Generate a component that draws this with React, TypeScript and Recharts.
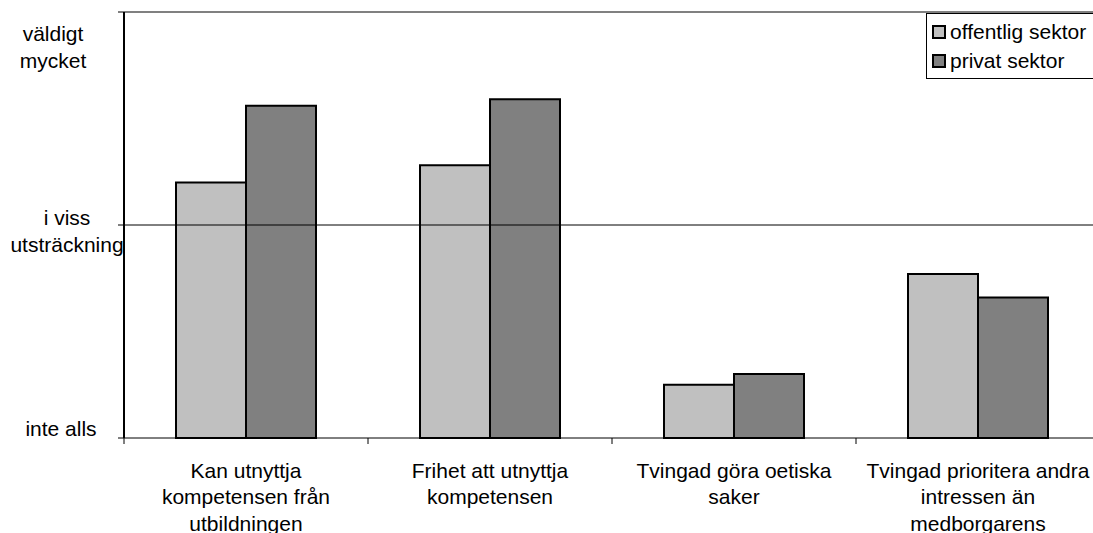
import { BarChart, Bar, XAxis, YAxis, ReferenceLine, Legend } from 'recharts';

const categories = [
  'Kan utnyttja\nkompetensen från\nutbildningen',
  'Frihet att utnyttja\nkompetensen',
  'Tvingad göra oetiska\nsaker',
  'Tvingad prioritera andra\nintressen än\nmedborgarens',
];
const offentligSektor = [1.2, 1.28, 0.25, 0.77];
const privatSektor = [1.56, 1.59, 0.3, 0.66];
const yTicks = [0, 1, 2];
const yTickLabels = ['inte alls', 'i viss\nutsträckning', 'väldigt\nmycket'];

const data = categories.map((name, i) => ({
  name,
  offentlig: offentligSektor[i],
  privat: privatSektor[i],
}));

const VIEW_W = 1093;
const W = 1100; // plot area runs a little past the right edge
const H = 533;
const AXIS_W = 124;
const FONT = '"Liberation Sans", Arial, sans-serif';
const band = (W - AXIS_W) / categories.length;
const yLabelOffset = [-10, -8, 21];
const yLabelX = [61, 67, 53];

const YTick = ({ y, payload, index }: any) => {
  const lines = yTickLabels[payload.value].split('\n');
  const y0 = y + yLabelOffset[index];
  return (
    <g>
      <line x1={AXIS_W - 6} x2={AXIS_W} y1={y} y2={y} stroke="#000" />
      {lines.map((l, k) => (
        <text key={k} x={yLabelX[index]} y={y0 + k * 27} textAnchor="middle" dominantBaseline="central"
          fontSize={21} fontFamily={FONT} fill="#000">{l}</text>
      ))}
    </g>
  );
};

const XTick = ({ x, y, payload }: any) => {
  const lines = String(payload.value).split('\n');
  const axisY = y - 8;
  return (
    <g>
      <line x1={x - band / 2} x2={x - band / 2} y1={axisY} y2={axisY + 6} stroke="#000" />
      {lines.map((l, k) => (
        <text key={k} x={x} y={axisY + 32 + k * 26.5} textAnchor="middle" dominantBaseline="central"
          fontSize={21} fontFamily={FONT} fill="#000">{l}</text>
      ))}
    </g>
  );
};

const LegendBox = ({ payload }: any) => (
  <div style={{ border: '1px solid #000', background: '#fff', padding: '3px 4px 3px 5px', fontFamily: FONT, fontSize: 21, lineHeight: '29px' }}>
    {payload.map((p: any) => (
      <div key={p.value} style={{ display: 'flex', alignItems: 'center', height: 29 }}>
        <span style={{ width: 10, height: 10, border: '2px solid #000', background: p.color, marginRight: 4, display: 'inline-block' }} />
        <span>{p.value}</span>
      </div>
    ))}
  </div>
);

export default function App() {
  return (
    <div style={{ position: 'absolute', left: 0, top: 0, width: VIEW_W, height: H, background: '#fff', overflow: 'hidden' }}>
      <BarChart width={W} height={H} data={data} margin={{ top: 12, right: 0, bottom: 0, left: 0 }}
        barGap={0} barSize={70}>
        <XAxis dataKey="name" height={95} axisLine={{ stroke: '#000' }} tickLine={false}
          tick={<XTick />} interval={0} />
        <YAxis domain={[0, 2]} ticks={yTicks} width={AXIS_W} axisLine={{ stroke: '#000', strokeWidth: 2 }}
          tickLine={false} tick={<YTick />} />
        <ReferenceLine y={1} stroke="#000" strokeWidth={1} />
        <ReferenceLine y={2} stroke="#808080" strokeWidth={2} />
        <Legend layout="horizontal" verticalAlign="middle" align="center" content={<LegendBox />}
          wrapperStyle={{ top: 13, left: 926, width: 175, height: 'auto' }} />
        <Bar dataKey="offentlig" name="offentlig sektor" fill="#c0c0c0" stroke="#000" strokeWidth={2} isAnimationActive={false} />
        <Bar dataKey="privat" name="privat sektor" fill="#808080" stroke="#000" strokeWidth={2} isAnimationActive={false} />
      </BarChart>
    </div>
  );
}
